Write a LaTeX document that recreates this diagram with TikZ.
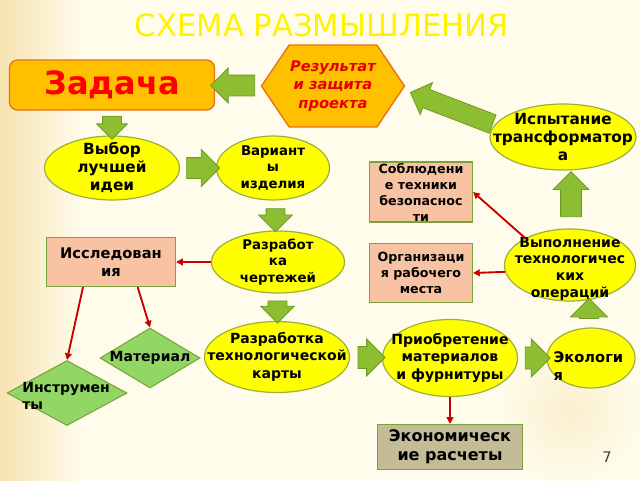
\documentclass[tikz,border=0pt]{standalone}
\usepackage{fontspec}
\setmainfont{DejaVu Sans}
\usetikzlibrary{shapes.geometric,shapes.arrows,shapes.symbols,arrows.meta,calc}

\definecolor{bgcream}{HTML}{FFFCEC}
\definecolor{bgwarm}{HTML}{F6E3B0}
\definecolor{ovalfill}{HTML}{FFFF00}
\definecolor{ovalline}{HTML}{9BB03C}
\definecolor{taskfill}{HTML}{FFC000}
\definecolor{taskline}{HTML}{E8701A}
\definecolor{boxfill}{HTML}{F7C3A3}
\definecolor{boxline}{HTML}{7AA33A}
\definecolor{calcfill}{HTML}{C4BC96}
\definecolor{rhombfill}{HTML}{92D666}
\definecolor{arrgreen}{HTML}{8DBE31}
\definecolor{arrline}{HTML}{6F9A26}
\definecolor{linkred}{HTML}{C80000}

% text that does not stretch its shape
\newcommand{\nodetext}[4][\centering]{\makebox[0pt]{\raisebox{#3}[0pt][0pt]{%
  \begin{minipage}{#2}#1 #4\end{minipage}}}}

\tikzset{
  oval/.style={ellipse, draw=ovalline, fill=ovalfill, line width=0.9pt, inner sep=0pt,
    font=\bfseries\fontsize{10.5}{13}\selectfont},
  infobox/.style={rectangle, draw=boxline, fill=boxfill, line width=0.9pt, inner sep=0pt,
    align=center, font=\bfseries\fontsize{9.5}{12}\selectfont},
  rhomb/.style={diamond, draw=boxline, fill=rhombfill, line width=0.8pt, inner sep=0pt,
    font=\bfseries\fontsize{10.5}{13}\selectfont},
  fatarrow/.style 2 args={single arrow, draw=arrline, fill=arrgreen, line width=0.6pt,
    inner xsep=0pt, inner ysep=#1, single arrow head extend=#2},
  link/.style={draw=linkred, line width=1.4pt, -{Triangle[length=5pt,width=5pt]}},
}

\begin{document}
\begin{tikzpicture}[x=0.75pt,y=-0.75pt]
  \useasboundingbox (0,0) rectangle (640,480);
  % Background
  \fill[bgcream] (0,0) rectangle (640,480);
  \shade[left color=bgwarm, right color=bgcream] (0,0) rectangle (80,480);
  \shade[inner color=bgwarm!50!bgcream, outer color=bgcream] (570,410) circle (75);

  % Title
  \node[text=yellow, font=\fontsize{23}{26}\selectfont] (title) at (322,25) {СХЕМА РАЗМЫШЛЕНИЯ};

  % Main nodes
  \node[rectangle, rounded corners=6pt, draw=taskline, fill=taskfill, line width=1pt,
        minimum width=205*0.75pt, minimum height=50*0.75pt, text=red,
        font=\bfseries\fontsize{24}{28}\selectfont] (task) at (112,85) {Задача};
  \node[signal, signal to=west and east, signal pointer angle=112, draw=taskline,
        fill=taskfill, line width=1pt, minimum width=143*0.75pt, minimum height=82*0.75pt,
        inner sep=0pt, align=center, text=red!90!black,
        font=\bfseries\itshape\fontsize{11}{14}\selectfont] (result) at (333,86)
        {Результат\\и защита\\проекта};

  % Big arrow to the result
  \node[fatarrow={7pt}{5.5pt}, rotate=159, minimum height=88*0.75pt] (arTest) at (456,110) {};

  \node[oval, minimum width=146*0.75pt, minimum height=66*0.75pt,
        font=\bfseries\fontsize{11.5}{13.5}\selectfont] (test) at (563,137)
        {\nodetext{4cm}{-0.25em}{Испытание\\трансформатор\\а}};
  \node[oval, minimum width=135*0.75pt, minimum height=64*0.75pt,
        font=\bfseries\fontsize{11.5}{13.5}\selectfont] (choice) at (112,168)
        {\nodetext{4cm}{-0.25em}{Выбор\\лучшей\\идеи}};
  \node[oval, minimum width=113*0.75pt, minimum height=64*0.75pt,
        font=\bfseries\fontsize{10}{12.5}\selectfont] (var) at (273,168)
        {\nodetext{4cm}{-0.25em}{Вариант\\ы\\изделия}};
  \node[oval, minimum width=133*0.75pt, minimum height=62*0.75pt,
        font=\bfseries\fontsize{10}{12.5}\selectfont] (chert) at (278,262)
        {\nodetext{4cm}{-0.25em}{Разработ\\ка\\чертежей}};
  \node[infobox, minimum width=129*0.75pt, minimum height=49*0.75pt,
        font=\bfseries\fontsize{11}{14}\selectfont] (research) at (111,262)
        {Исследован\\ия};
  \node[infobox, minimum width=103*0.75pt, minimum height=60*0.75pt] (safety) at (421,192)
        {Соблюдени\\е техники\\безопаснос\\ти};
  \node[infobox, minimum width=103*0.75pt, minimum height=59*0.75pt] (org) at (421,273)
        {Организаци\\я рабочего\\места};
  \node[oval, minimum width=131*0.75pt, minimum height=72*0.75pt,
        font=\bfseries\fontsize{10.5}{12.5}\selectfont] (exec) at (570,265)
        {\nodetext{4cm}{-0.5em}{Выполнение\\технологичес\\ких\\операций}};
  \node[oval, minimum width=145*0.75pt, minimum height=71*0.75pt] (card) at (277,357)
        {\nodetext{4cm}{-0.25em}{Разработка\\технологической\\карты}};
  \node[oval, minimum width=135*0.75pt, minimum height=77*0.75pt] (buy) at (450,358)
        {\nodetext{4cm}{-0.25em}{Приобретение\\материалов\\и фурнитуры}};
  \node[oval, minimum width=88*0.75pt, minimum height=60*0.75pt,
        font=\bfseries\fontsize{11}{13.5}\selectfont] (eco) at (591,358)
        {\nodetext[\raggedright]{56pt}{-8.5pt}{Экологи\\я}};
  \node[infobox, fill=calcfill, minimum width=145*0.75pt, minimum height=45*0.75pt,
        font=\bfseries\fontsize{12}{14}\selectfont] (calc) at (450,447)
        {Экономическ\\ие расчеты};
  \node[rhomb, minimum width=100*0.75pt, minimum height=60*0.75pt] (material) at (150,358)
        {\nodetext{3cm}{-0.25em}{Материал}};
  \node[rhomb, minimum width=120*0.75pt, minimum height=65*0.75pt] (instr) at (67,393)
        {\nodetext[\raggedright]{67pt}{-5pt}{Инструмен\\ты}};

  % Green arrows
  \node[fatarrow={7.5pt}{5.25pt}, rotate=180, minimum height=44*0.75pt]
        (arTask) at ($(task.east)!0.5!(result.west)$) {};
  \node[fatarrow={6.75pt}{4.5pt}, rotate=270, minimum height=23*0.75pt]
        (arDown) at ($(task.south)!0.5!(choice.north)$) {};
  \node[fatarrow={7.5pt}{6pt}, minimum height=33*0.75pt]
        (arChoice) at ($(choice.east)!0.5!(var.west)$) {};
  \node[fatarrow={6.75pt}{5.5pt}, rotate=270, minimum height=23*0.75pt]
        (arVar) at ($(var.south)!0.5!(chert.north)$) {};
  \node[fatarrow={6.75pt}{5.5pt}, rotate=270, minimum height=22*0.75pt]
        (arChert) at ($(chert.south)!0.5!(card.north)$) {};
  \node[fatarrow={8pt}{5.5pt}, minimum height=27*0.75pt]
        (arCard) at ($(card.east)!0.5!(buy.west)$) {};
  \node[fatarrow={8pt}{6pt}, minimum height=25*0.75pt]
        (arBuy) at ($(buy.east)!0.5!(eco.west)$) {};
  \node[fatarrow={7pt}{6.5pt}, rotate=90, minimum height=20*0.75pt]
        (arEco) at ($(eco.north)+(-2,-14)$) {};
  \node[fatarrow={7.5pt}{5.5pt}, rotate=90, minimum height=45*0.75pt]
        (arExec) at ($(exec.north)+(1,-29)$) {};

  % Red links
  \draw[link] (chert.west) -- (research.east);
  \draw[link] ([xshift=20pt]research.south) -- (material.north);
  \draw[link] ([xshift=-21pt]research.south) -- (instr.north);
  \draw[link] (exec.149) -- (safety.east);
  \draw[link] (exec.186) -- (org.east);
  \draw[link] (buy.south) -- (calc.north);

  % Page number
  \node[text=black!75, font=\fontsize{11}{13}\selectfont] (page) at (607,457) {7};
\end{tikzpicture}
\end{document}
